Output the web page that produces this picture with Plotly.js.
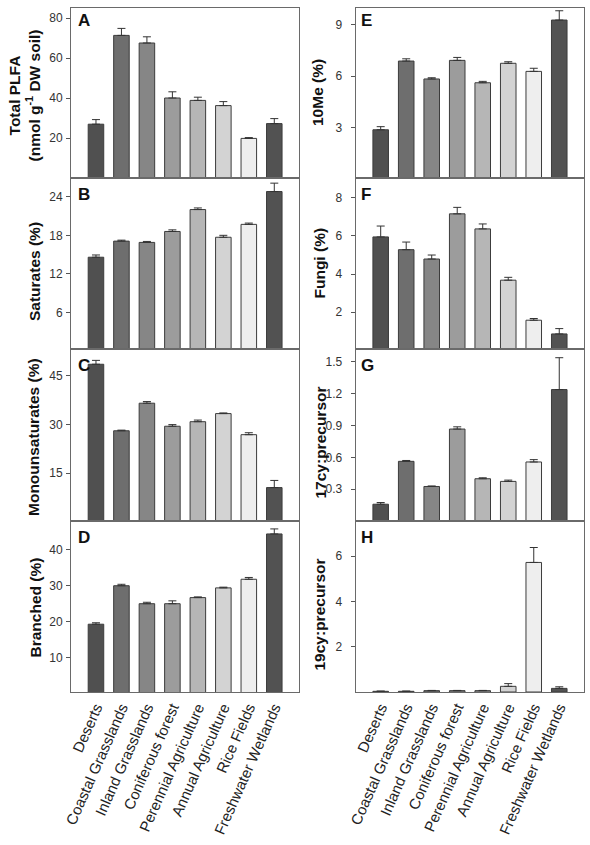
<!DOCTYPE html>
<html>
<head>
<meta charset="utf-8">
<script src="https://cdn.plot.ly/plotly-3.0.1.min.js"></script>
<style>html,body{margin:0;padding:0;background:#fff;}#chart{width:590px;height:845px;}</style>
</head>
<body>
<div id="chart"></div>
<script>
// ---- data ----
const categories = ["Deserts", "Coastal Grasslands", "Inland Grasslands", "Coniferous forest",
  "Perennial Agriculture", "Annual Agriculture", "Rice Fields", "Freshwater Wetlands"];

const plfaVals = [26.9, 71.3, 67.5, 40.0, 38.8, 36.2, 19.8, 27.2];
const plfaErr  = [2.3, 3.5, 3.1, 3.1, 1.6, 2.0, 0.4, 2.5];

const saturatesVals = [14.6, 17.1, 16.9, 18.6, 22.0, 17.7, 19.7, 24.8];
const saturatesErr  = [0.35, 0.15, 0.15, 0.25, 0.25, 0.3, 0.2, 1.3];

const monoVals = [48.6, 28.1, 36.6, 29.5, 30.9, 33.4, 26.9, 10.6];
const monoErr  = [1.2, 0.2, 0.5, 0.5, 0.5, 0.2, 0.6, 2.2];

const branchedVals = [19.2, 29.9, 24.9, 24.9, 26.6, 29.3, 31.7, 44.3];
const branchedErr  = [0.4, 0.4, 0.4, 0.8, 0.2, 0.2, 0.5, 1.4];

const meVals = [2.88, 6.87, 5.83, 6.91, 5.61, 6.74, 6.27, 9.25];
const meErr  = [0.18, 0.13, 0.07, 0.17, 0.08, 0.09, 0.18, 0.54];

const fungiVals = [5.95, 5.28, 4.79, 7.16, 6.37, 3.68, 1.58, 0.86];
const fungiErr  = [0.57, 0.40, 0.21, 0.34, 0.26, 0.15, 0.09, 0.28];

const cy17Vals = [0.158, 0.562, 0.325, 0.866, 0.398, 0.373, 0.556, 1.238];
const cy17Err  = [0.016, 0.008, 0.005, 0.021, 0.009, 0.012, 0.022, 0.30];

const cy19Vals = [0.03, 0.03, 0.06, 0.06, 0.06, 0.25, 5.72, 0.16];
const cy19Err  = [0.01, 0.01, 0.01, 0.01, 0.01, 0.12, 0.66, 0.07];

const noLower = [0, 0, 0, 0, 0, 0, 0, 0];

const ticksA = [20, 40, 60, 80];
const ticksB = [6, 12, 18, 24];
const ticksC = [15, 30, 45];
const ticksD = [10, 20, 30, 40];
const ticksE = [3, 6, 9];
const ticksF = [2, 4, 6, 8];
const ticksG = [0.3, 0.6, 0.9, 1.2, 1.5];
const ticksH = [2, 4, 6];

const panelLetters = ["A", "B", "C", "D", "E", "F", "G", "H"];
const yTitles = ["Total PLFA<br>(nmol g<sup>-1</sup> DW soil)", "Saturates (%)", "Monounsaturates (%)",
  "Branched (%)", "10Me (%)", "Fungi (%)", "17cy:precursor", "19cy:precursor"];

// ---- styles ----
const barColors = ["#505050", "#6e6e6e", "#868686", "#9c9c9c", "#b6b6b6", "#d3d3d3", "#eeeeee", "#525252"];
const W = 590, H = 845;
const px = v => v / W;
const py = v => 1 - v / H;

const panels = [
  {vals: plfaVals, err: plfaErr, ticks: ticksA, range: [0, 85], col: 0, top: 8, bot: 178, ttl: [24.5, 96]},
  {vals: saturatesVals, err: saturatesErr, ticks: ticksB, range: [0.35, 26.9], col: 0, top: 178, bot: 349, ttl: [34, 272]},
  {vals: monoVals, err: monoErr, ticks: ticksC, range: [0.3, 53.3], col: 0, top: 349, bot: 521, ttl: [33, 437]},
  {vals: branchedVals, err: branchedErr, ticks: ticksD, range: [0.35, 47.9], col: 0, top: 521, bot: 692, ttl: [35, 607.5]},
  {vals: meVals, err: meErr, ticks: ticksE, range: [0.08, 9.95], col: 1, top: 8, bot: 178, ttl: [318, 93]},
  {vals: fungiVals, err: fungiErr, ticks: ticksF, range: [0.07, 9.04], col: 1, top: 178, bot: 349, ttl: [318.5, 263]},
  {vals: cy17Vals, err: cy17Err, ticks: ticksG, range: [0, 1.62], col: 1, top: 349, bot: 521, ttl: [319.5, 443]},
  {vals: cy19Vals, err: cy19Err, ticks: ticksH, range: [0, 7.55], col: 1, top: 521, bot: 692, ttl: [318.5, 615]}
];
const colX = [[71, 299], [355.7, 584]];
const letterX = [76, 359];

const traces = [];
const layout = {
  width: W, height: H,
  margin: {l: 0, r: 0, t: 0, b: 0},
  paper_bgcolor: "#ffffff", plot_bgcolor: "#ffffff",
  showlegend: false,
  font: {family: "Liberation Sans, Arial, sans-serif", color: "#333333"},
  annotations: []
};

panels.forEach((p, i) => {
  const n = i + 1;
  const xa = n === 1 ? "x" : "x" + n;
  const ya = n === 1 ? "y" : "y" + n;
  traces.push({
    type: "bar", x: categories, y: p.vals, xaxis: xa, yaxis: ya,
    width: 0.61,
    marker: {color: barColors, line: {color: "#3c3c3c", width: 1}},
    error_y: {type: "data", symmetric: false, array: p.err, arrayminus: noLower,
      color: "#333333", thickness: 1, width: 4},
    hoverinfo: "x+y"
  });
  const isBottom = (i === 3 || i === 7);
  layout["xaxis" + (n === 1 ? "" : n)] = {
    domain: [px(colX[p.col][0]), px(colX[p.col][1])],
    anchor: ya, type: "category",
    range: [-0.98, 7.97],
    showline: true, mirror: true, linecolor: "#6a6a6a", linewidth: 1,
    ticks: "", showgrid: false, zeroline: false,
    showticklabels: isBottom, tickangle: -66,
    tickfont: {size: 15, color: "#222222"}
  };
  layout["yaxis" + (n === 1 ? "" : n)] = {
    domain: [py(p.bot), py(p.top)],
    anchor: xa, range: p.range,
    showline: true, mirror: true, linecolor: "#6a6a6a", linewidth: 1,
    ticks: "outside", ticklen: 4, tickcolor: "#555555", tickwidth: 1,
    tickvals: p.ticks, showgrid: false, zeroline: false,
    ticklabelstandoff: p.col === 1 ? 6 : 1,
    tickfont: {size: 12, color: "#333333"}
  };
  layout.annotations.push({
    xref: "paper", yref: "paper", x: px(letterX[p.col]), y: py((p.top + (i % 4 === 0 ? 13 : 16))),
    xanchor: "left", yanchor: "middle", showarrow: false,
    text: "<b>" + panelLetters[i] + "</b>", font: {size: 17, color: "#111111"}
  });
  layout.annotations.push({
    xref: "paper", yref: "paper", x: px(p.ttl[0]), y: py(p.ttl[1]),
    xanchor: "center", yanchor: "middle", showarrow: false, textangle: -90,
    text: "<b>" + yTitles[i] + "</b>", font: {size: 15.5, color: "#111111"}
  });
});

Plotly.newPlot("chart", traces, layout, {staticPlot: true, displayModeBar: false});
</script>
</body>
</html>
